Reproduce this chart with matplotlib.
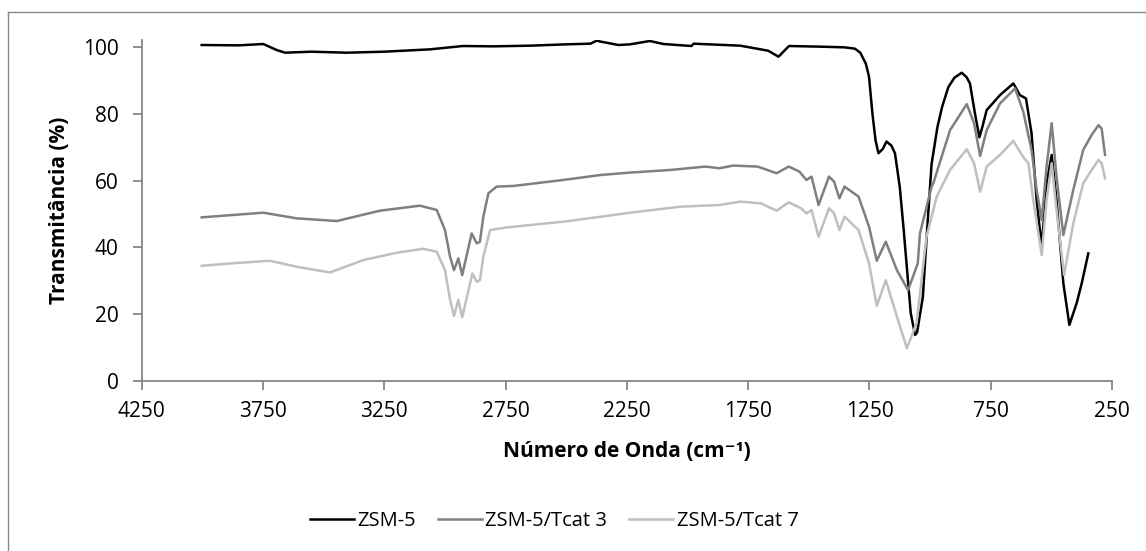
import matplotlib
matplotlib.use("Agg")
import matplotlib.pyplot as plt
from matplotlib.lines import Line2D
import numpy as np

plt.rcParams['font.family'] = ['Open Sans', 'DejaVu Sans']

# dados (numero de onda cm-1, transmitancia %)
zsm5_x = [4003, 3850, 3749, 3694, 3659, 3550, 3405, 3250, 3062, 2926, 2800, 2649, 2500,
          2400, 2375, 2357, 2285, 2237, 2156, 2099, 1984, 1975, 1783, 1668, 1625, 1582,
          1450, 1353, 1310, 1288, 1265, 1252, 1238, 1225, 1213, 1195, 1180, 1160, 1145, 1125,
          1109, 1080, 1062, 1054, 1030, 1010, 994, 970, 951, 925, 900, 870, 850, 836, 815, 797,
          785, 767, 712, 657, 630, 605, 582, 561, 540, 520, 499, 479, 451, 426, 396, 375, 348]
zsm5_y = [100.6, 100.5, 100.9, 99.1, 98.3, 98.6, 98.3, 98.6, 99.3, 100.3, 100.2, 100.4, 100.8,
          101.0, 101.9, 101.6, 100.6, 100.8, 101.8, 100.9, 100.3, 101.0, 100.4, 98.9, 97.1, 100.3,
          100.1, 99.9, 99.5, 98.3, 95.0, 91.1, 80.1, 72.0, 68.2, 69.5, 71.7, 70.5, 68.2, 58.0,
          45.2, 20.3, 13.8, 14.5, 25.2, 48.0, 65.0, 76.0, 82.0, 88.0, 90.8, 92.3, 91.0, 89.1, 80.0, 73.0,
          76.0, 81.1, 85.6, 89.1, 85.6, 84.6, 74.2, 54.2, 40.2, 59.2, 67.7,
          54.2, 29.3, 16.8, 23.3, 29.3, 38.2]

tcat3_x = [4003, 3749, 3611, 3446, 3268, 3103, 3034, 3000, 2979, 2963, 2945, 2929, 2890,
           2869, 2856, 2842, 2821, 2787, 2718, 2512, 2357, 2237, 2070, 1926, 1869, 1812, 1711,
           1633, 1583, 1539, 1510, 1489, 1460, 1417, 1396, 1374, 1353, 1295, 1252, 1220,
           1183, 1137, 1091, 1051, 1042, 994, 987, 918, 849, 819, 794, 767, 712, 650, 616,
           582, 561, 540, 520, 499, 479, 451, 410, 369, 334, 306, 293, 279]
tcat3_y = [49.0, 50.4, 48.7, 47.9, 51.0, 52.5, 51.2, 45.2, 37.2, 33.2, 36.7, 31.7, 44.2,
           41.2, 41.7, 49.2, 56.2, 58.2, 58.4, 60.2, 61.7, 62.4, 63.2, 64.2, 63.7, 64.5, 64.2,
           62.2, 64.2, 62.7, 60.2, 61.2, 52.7, 61.2, 59.7, 54.7, 58.2, 55.2, 46.2, 36.0,
           41.7, 33.2, 27.2, 35.2, 44.2, 58.2, 59.2, 75.1, 82.9, 77.2, 67.4, 75.1, 83.1, 87.6, 80.6,
           69.2, 57.2, 48.2, 64.2, 77.2, 61.2, 43.7, 57.2, 69.2, 73.7, 76.6, 75.6, 67.7]

tcat7_x = [4003, 3886, 3721, 3611, 3474, 3337, 3199, 3089, 3034, 3000, 2979, 2963, 2945,
           2929, 2887, 2869, 2856, 2842, 2814, 2745, 2512, 2357, 2237, 2028, 1869, 1783,
           1697, 1633, 1583, 1532, 1510, 1489, 1460, 1417, 1396, 1374, 1353, 1295, 1252,
           1220, 1183, 1137, 1096, 1056, 1015, 973, 918, 849, 819, 794, 767, 712, 657, 616,
           595, 575, 540, 520, 499, 479, 448, 410, 369, 334, 306, 293, 279]
tcat7_y = [34.5, 35.2, 36.0, 34.2, 32.5, 36.2, 38.4, 39.6, 38.7, 33.2, 24.3, 19.5, 24.3,
           19.1, 32.2, 29.7, 30.2, 37.2, 45.2, 46.0, 47.7, 49.2, 50.4, 52.2, 52.7, 53.7,
           53.2, 51.0, 53.5, 51.7, 50.2, 51.2, 43.2, 51.7, 50.2, 45.2, 49.2, 45.2, 35.2,
           22.5, 30.2, 19.3, 9.8, 17.3, 43.2, 55.2, 63.2, 69.4, 65.2, 56.7, 64.2, 67.7, 71.9, 67.0,
           65.2, 54.2, 37.7, 54.2, 65.2, 51.2, 31.7, 47.2, 59.2, 63.2, 66.2, 65.2, 60.7]

series = [
    ("ZSM-5", zsm5_x, zsm5_y, "#000000"),
    ("ZSM-5/Tcat 3", tcat3_x, tcat3_y, "#7f7f7f"),
    ("ZSM-5/Tcat 7", tcat7_x, tcat7_y, "#bfbfbf"),
]

x_ticks = np.arange(4250, 249, -500)
y_ticks = [0, 20, 40, 60, 80, 100]

fig = plt.figure(figsize=(11.46, 5.51), dpi=100)
ax = fig.add_axes([0.1237, 0.3085, 0.8467, 0.6183])

for name, xs, ys, cor in series:
    ax.plot(xs, ys, color=cor, linewidth=1.8, label=name, solid_joinstyle="round")

ax.set_xlim(4250, 250)
ax.set_ylim(0, 102)
ax.set_xticks(x_ticks)
ax.set_yticks(y_ticks)

for lado in ["top", "right"]:
    ax.spines[lado].set_visible(False)
for lado in ["left", "bottom"]:
    ax.spines[lado].set_color("#868686")
    ax.spines[lado].set_linewidth(1.3)

ax.tick_params(axis="both", direction="out", length=6.5, width=1.3, color="#868686",
               labelsize=15, labelcolor="#000000")
ax.tick_params(axis="y", pad=10)
ax.tick_params(axis="x", pad=8)

ax.set_xlabel("Número de Onda (cm⁻¹)", fontsize=15, fontweight="bold", va="center")
ax.xaxis.set_label_coords(0.5, -0.2055)
ax.set_ylabel("Transmitância (%)", fontsize=15, fontweight="bold", va="center")
ax.yaxis.set_label_coords(-0.0852, 0.5)

# legenda em baixo
fig.legend(loc="center", bbox_to_anchor=(554 / 1146, 1 - 521 / 551), ncol=3, frameon=False,
           fontsize=14.5, handlelength=2.2, handletextpad=0.15, columnspacing=1.1)

# moldura do grafico (so esquerda e topo visiveis)
fig.add_artist(Line2D([8.3 / 1146, 8.3 / 1146], [0, 1 - 12.3 / 551], transform=fig.transFigure,
                      color="#898989", linewidth=1.0))
fig.add_artist(Line2D([8.3 / 1146, 1], [1 - 12.3 / 551, 1 - 12.3 / 551], transform=fig.transFigure,
                      color="#898989", linewidth=1.0))

fig.savefig("out.png", dpi=100)
